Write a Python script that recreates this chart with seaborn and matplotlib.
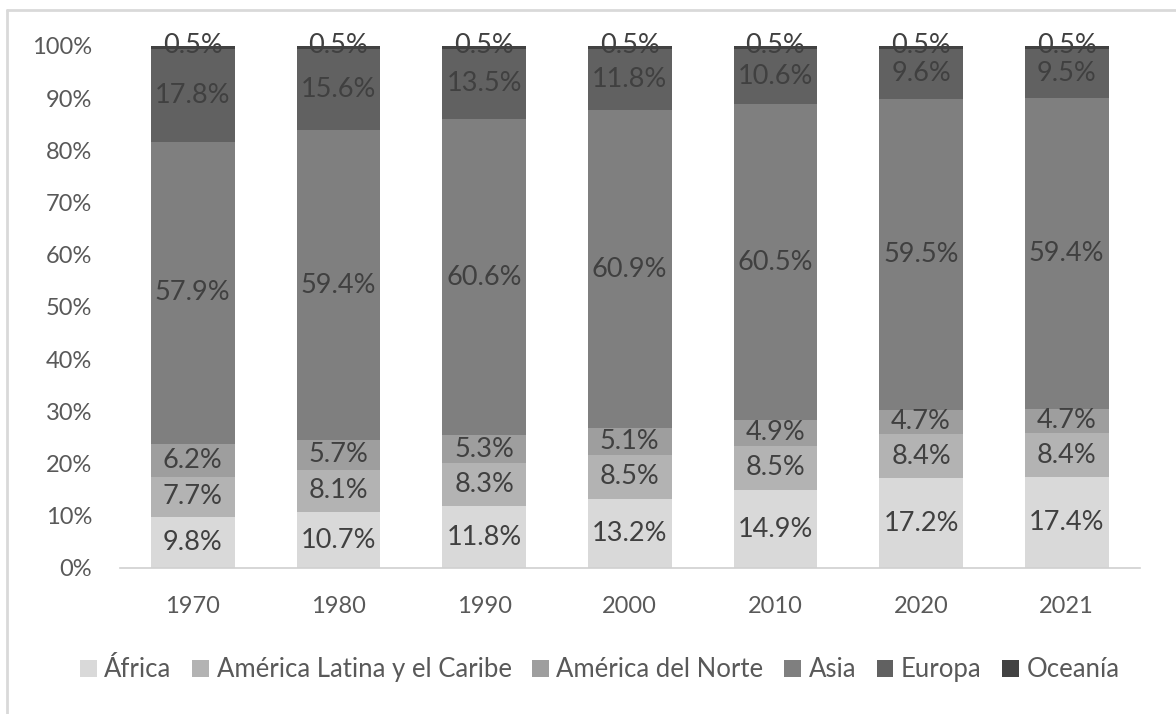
import numpy as np
import pandas as pd
import matplotlib
import matplotlib.pyplot as plt
import seaborn as sns
from matplotlib.lines import Line2D
from matplotlib.patches import Patch
matplotlib.use('Agg')

# data (percent of total per year)
years = ['1970', '1980', '1990', '2000', '2010', '2020', '2021']
regions = ['África', 'América Latina y el Caribe', 'América del Norte', 'Asia', 'Europa', 'Oceanía']
africa = [9.8, 10.7, 11.8, 13.2, 14.9, 17.2, 17.4]
am_latina = [7.7, 8.1, 8.3, 8.5, 8.5, 8.4, 8.4]
am_norte = [6.2, 5.7, 5.3, 5.1, 4.9, 4.7, 4.7]
asia = [57.9, 59.4, 60.6, 60.9, 60.5, 59.5, 59.4]
europa = [17.8, 15.6, 13.5, 11.8, 10.6, 9.6, 9.5]
oceania = [0.5, 0.5, 0.5, 0.5, 0.5, 0.5, 0.5]
colors = ['#d9d9d9', '#b3b3b3', '#9e9e9e', '#7f7f7f', '#616161', '#424242']

series = [africa, am_latina, am_norte, asia, europa, oceania]
df = pd.DataFrame(dict(zip(regions, series)), index=years)
# normalise so the stack always reaches 100%
df = df.div(df.sum(axis=1), axis=0) * 100
cum = df.cumsum(axis=1)

sns.set_style('white')
plt.rcParams['font.family'] = ['Lato', 'DejaVu Sans']

fig = plt.figure(figsize=(11.76, 7.14), dpi=100)
ax = fig.add_axes([0.102, 0.2045, 0.867, 0.7311])

# stacked bars: draw cumulative tops from the highest down
for i in range(len(regions) - 1, -1, -1):
    d = pd.DataFrame({'year': years, 'val': cum[regions[i]].values})
    sns.barplot(data=d, x='year', y='val', color=colors[i], width=0.575,
                saturation=1, ax=ax, edgecolor='none')

# labels in the middle of each segment
for j, yr in enumerate(years):
    for i, r in enumerate(regions):
        top = cum[r].iloc[j]
        h = df[r].iloc[j]
        if r == 'Oceanía':
            ymid = 100
        else:
            ymid = top - h / 2
        ax.text(j, ymid, f'{series[i][j]:.1f}%', ha='center', va='center',
                fontsize=19.5, color='#404040')

ax.set_xlim(-0.5, 6.5)
ax.set_ylim(0, 100)
ax.set_yticks(np.arange(0, 101, 10))
ax.set_yticklabels([f'{v}%' for v in range(0, 101, 10)])
ax.set_xlabel('')
ax.set_ylabel('')
ax.tick_params(axis='both', labelsize=17, colors='#595959', length=0)
ax.tick_params(axis='x', pad=20)
ax.tick_params(axis='y', pad=20)
for s in ['top', 'right', 'left']:
    ax.spines[s].set_visible(False)
ax.spines['bottom'].set_color('#d0d0d0')
ax.spines['bottom'].set_linewidth(1.2)

handles = [Patch(facecolor=c, edgecolor='none') for c in colors]
fig.legend(handles, regions, loc='center', bbox_to_anchor=(0.51, 0.062), ncol=6,
           frameon=False, fontsize=18.5, handlelength=0.65, handleheight=0.65,
           handletextpad=0.3, columnspacing=0.8, labelcolor='#595959')

# outer chart border (top and left visible)
fig.add_artist(Line2D([7 / 1176, 1], [1 - 10 / 714, 1 - 10 / 714], color='#d9d9d9', lw=2, transform=fig.transFigure))
fig.add_artist(Line2D([7 / 1176, 7 / 1176], [0, 1 - 10 / 714], color='#d9d9d9', lw=2, transform=fig.transFigure))

fig.savefig('out.png', dpi=100)
